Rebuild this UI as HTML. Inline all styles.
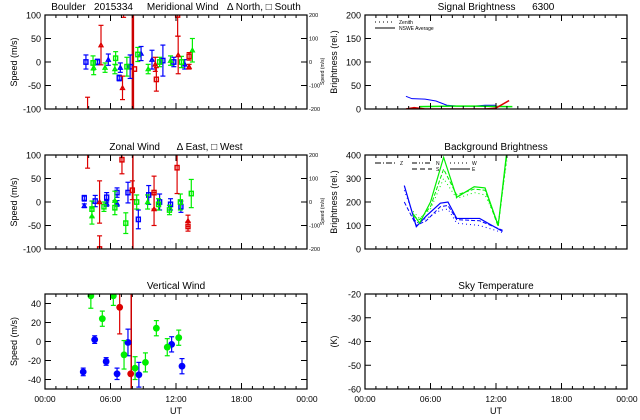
<!DOCTYPE html>
<html><head><meta charset="utf-8"><style>
html,body{margin:0;padding:0;background:#fff;}
svg{display:block;font-family:"Liberation Sans",sans-serif;}
text{white-space:pre;}
</style></head><body>
<svg id="c" width="640" height="420" viewBox="0 0 640 420" xmlns="http://www.w3.org/2000/svg"></svg>
<script>
// ---- data ----
const merBlue=[[3.75,0,15,'s'],[4.8,0,6,'s'],[5.8,5,12,'t'],[6.8,-34,6,'s'],[6.9,-12,10,'t'],[7.8,-10,25,'s'],[8.8,18,15,'t'],[9.8,5,20,'t'],[10.8,3,33,'s'],[11.8,0,10,'s'],[12.8,-5,10,'t']];
const merGreen=[[4.46,-12,15,'t'],[4.4,-2,15,'s'],[5.5,-12,10,'t'],[6.47,8,14,'s'],[6.4,-15,10,'t'],[7.5,-10,20,'s'],[8.5,16,15,'s'],[9.45,-15,10,'t'],[10.5,0,10,'s'],[11.5,3,10,'t'],[12.5,0,12,'s'],[13.5,25,25,'t']];
const merRed=[[5.13,36,42,'t'],[3.9,-110,35,'s'],[7.1,-55,25,'t'],[7.2,120,25,'s'],[8.2,-15,0,'s'],[10.1,-5,15,'t'],[10.2,-37,25,'s'],[12.2,15,40,'t'],[12.15,100,45,'s'],[13.2,12,8,'s'],[13.2,-10,5,'t']];
const zonBlue=[[3.6,8,6,'s'],[3.6,-8,4,'t'],[4.6,2,12,'s'],[5.65,10,10,'s'],[5.65,-3,6,'t'],[6.6,20,10,'s'],[6.6,-3,6,'t'],[7.6,20,22,'s'],[8.55,-37,20,'s'],[9.5,15,20,'s'],[10.5,0,17,'s'],[11.5,-5,12,'s'],[12.45,-10,12,'s']];
const zonGreen=[[4.3,-15,17,'s'],[4.3,-30,17,'t'],[5.4,-10,10,'s'],[6.4,3,20,'t'],[6.4,-12,15,'s'],[7.4,-45,22,'s'],[8.4,0,15,'s'],[9.4,0,15,'t'],[10.4,-5,12,'s'],[11.4,-17,10,'s'],[12.4,0,17,'s'],[13.4,18,30,'s']];
const zonRed=[[3.9,115,43,'s'],[5.0,0,45,'t'],[5.0,-100,28,'s'],[7.05,90,30,'s'],[8.0,25,20,'s'],[9.99,20,35,'s'],[9.99,-15,35,'t'],[12.1,73,55,'s'],[13.1,-52,10,'s'],[13.1,-40,12,'t']];
const verBlue=[[3.5,-32,4],[4.55,2,4],[5.6,-21,4],[6.6,-34,6],[7.6,-1,14],[8.6,-35,13],[11.6,-3,8],[12.55,-26,8]];
const verGreen=[[4.2,48,13],[5.25,24,8],[6.26,48,10],[7.24,-14,15],[8.25,-28,12],[9.2,-22,10],[10.2,14,8],[11.2,-6,9],[12.25,4,8]];
const verRed=[[6.84,36,28],[7.85,-34,0]];
const sigBlueT=[3.75,4.3,5.5,6.5,7.5,8.5,10,11,12];
const sigBlueV=[27,22,21,17,8,6,6,8,8];
const sigGreenT=[5,8,10,13.5];
const sigGreenV=[5,6,6,5];
const sigRedT=[3.75,4.5,5.5,11,12,13.2];
const sigRedV=[0,3,0,0,2,18];
const bgBlueT=[3.6,4.7,5.6,6.9,7.6,8.4,10.5,12.6];
const bgBlueA=[270,95,140,195,200,130,130,75];
const bgBlueB=[200,100,120,180,185,125,120,80];
const bgBlueC=[250,110,130,165,170,110,100,70];
const bgGreenT=[4.4,5.0,6.0,7.2,8.4,10.0,11.0,12.2,13.0];
const bgGreenA=[150,110,200,390,220,265,260,100,420];
const bgGreenB=[140,125,180,340,230,255,250,95,400];
const bgGreenC=[160,130,170,300,215,240,230,110,380];
const xTickLabels=['00:00','06:00','12:00','18:00','00:00'];
const merTicks=[-100,-50,0,50,100];
const rightTicks=['-200','-100','0','100','200'];
const verTicks=[-40,-20,0,20,40];
const sigTicks=[0,50,100,150,200];
const bgTicks=[0,100,200,300,400];
const skyTicks=[-60,-50,-40,-30,-20];
// ---- helpers ----
const NS='http://www.w3.org/2000/svg';
const svg=document.getElementById('c');
function mk(tag,at,parent){const e=document.createElementNS(NS,tag);for(const k in at)e.setAttribute(k,at[k]);(parent||svg).appendChild(e);return e;}
const COL={b:'#0000ff',g:'#00ee00',r:'#dd0000'};
function panel(name,x0,x1,y0,y1,ymin,ymax,yt,title,ylab,rightLabels,showX){
  const g=mk('g',{});
  
  
  const P={x0,x1,y0,y1,ymin,ymax,g,
    sx:h=>x0+(x1-x0)*h/24, sy:v=>y1-(y1-y0)*(v-ymin)/(ymax-ymin)};
  const cp='cp'+name;const c=mk('clipPath',{id:cp},g);mk('rect',{x:x0,y:y0,width:x1-x0,height:y1-y0},c);
  P.cg=mk('g',{'clip-path':'url(#'+cp+')'},g);
  mk('rect',{x:x0,y:y0,width:x1-x0,height:y1-y0,fill:'none',stroke:'#000','stroke-width':1.2},g);
  for(let h=1;h<24;h++){const X=P.sx(h),L=h%6==0?6:3;
    mk('line',{x1:X,x2:X,y1:y1,y2:y1-L,stroke:'#000'},g);mk('line',{x1:X,x2:X,y1:y0,y2:y0+L,stroke:'#000'},g);}
  yt.forEach(v=>{const Y=P.sy(v);
    mk('line',{x1:x0,x2:x0+6,y1:Y,y2:Y,stroke:'#000'},g);mk('line',{x1:x1,x2:x1-6,y1:Y,y2:Y,stroke:'#000'},g);
    const t=mk('text',{x:x0-4,y:Y+3.5,'text-anchor':'end','font-size':9},g);t.textContent=v;
    
    });
  if(rightLabels)rightLabels.forEach((s,i)=>{const Y=P.sy(yt[i]);const t=mk('text',{x:x1+2,y:Y+2,'font-size':5.5},g);t.textContent=s;
    
    });
  const tt=mk('text',{x:(x0+x1)/2,y:y0-5,'text-anchor':'middle','font-size':10},g);tt.textContent=title;
  
  
  const yl=mk('text',{x:0,y:0,'text-anchor':'middle','font-size':9,transform:`translate(${x0-28},${(y0+y1)/2}) rotate(-90)`},g);yl.textContent=ylab;
  
  
  if(showX){xTickLabels.forEach((s,i)=>{const t=mk('text',{x:P.sx(i*6),y:y1+13,'text-anchor':'middle','font-size':8.5},g);t.textContent=s;
      
      });
    const u=mk('text',{x:(x0+x1)/2,y:y1+25,'text-anchor':'middle','font-size':9},g);u.textContent='UT';
    
    }
  return P;
}
function err(P,h,v,e,col){const X=P.sx(h);if(e<=0)return;
  mk('line',{x1:X,x2:X,y1:P.sy(v-e),y2:P.sy(v+e),stroke:col,'stroke-width':1.2},P.cg);
  [v-e,v+e].forEach(w=>mk('line',{x1:X-2.5,x2:X+2.5,y1:P.sy(w),y2:P.sy(w),stroke:col,'stroke-width':1.2},P.cg));}
function pts(P,arr,col,name){arr.forEach(d=>{err(P,d[0],d[1],d[2],col);const X=P.sx(d[0]),Y=P.sy(d[1]);let m;
  if(d[3]=='t')m=mk('path',{d:`M${X-2},${Y+1.6} L${X+2},${Y+1.6} L${X},${Y-2}Z`,fill:'none',stroke:col,'stroke-width':1.3},P.cg);
  else m=mk('rect',{x:X-2,y:Y-2.2,width:4,height:4.4,fill:'none',stroke:col,'stroke-width':1.4},P.cg);
  
  });}
function dots(P,arr,col,name){arr.forEach(d=>{err(P,d[0],d[1],d[2],col);const c=mk('circle',{cx:P.sx(d[0]),cy:P.sy(d[1]),r:3.4,fill:col},P.cg);
  
  });}
function line(P,T,V,col,dash,name,w){const p=mk('polyline',{points:T.map((t,i)=>P.sx(t)+','+P.sy(V[i])).join(' '),fill:'none',stroke:col,'stroke-width':w||1,'stroke-dasharray':dash||'none'},P.cg);
  
  }
function vline(P,h,w){const l=mk('line',{x1:P.sx(h),x2:P.sx(h),y1:P.y0,y2:P.y1,stroke:'#cc0000','stroke-width':w},P.cg);
  
  }
function txt(x,y,s,fs,name,extra){const t=mk('text',Object.assign({x,y,'font-size':fs},extra||{}));t.textContent=s;
  
  return t;}
// ---- panels ----
const L0=45,L1=307,R0=365,R1=627;
const pm=panel('meridional-wind-panel',L0,L1,15,109,-100,100,merTicks,'Boulder   2015334     Meridional Wind   \u0394 North, \u25A1 South','Speed (m/s)',rightTicks,false);
vline(pm,8.05,2.5);pts(pm,merBlue,COL.b,'meridional-blue-point');pts(pm,merGreen,COL.g,'meridional-green-point');pts(pm,merRed,COL.r,'meridional-red-point');
const pz=panel('zonal-wind-panel',L0,L1,155,249,-100,100,merTicks,'Zonal Wind      \u0394 East, \u25A1 West','Speed (m/s)',rightTicks,false);
vline(pz,8.05,1.5);pts(pz,zonBlue,COL.b,'zonal-blue-point');pts(pz,zonGreen,COL.g,'zonal-green-point');pts(pz,zonRed,COL.r,'zonal-red-point');
const pv=panel('vertical-wind-panel',L0,L1,294,389,-50,50,verTicks,'Vertical Wind','Speed (m/s)',null,true);
vline(pv,7.9,1.5);dots(pv,verBlue,COL.b,'vertical-blue-point');dots(pv,verGreen,COL.g,'vertical-green-point');dots(pv,verRed,COL.r,'vertical-red-point');
const ps=panel('signal-brightness-panel',R0,R1,15,109,0,200,sigTicks,'Signal Brightness      6300','Brightness (rel.)',null,false);
line(ps,sigBlueT,sigBlueV,COL.b,null,'signal-blue-line');line(ps,sigGreenT,sigGreenV,COL.g,null,'signal-green-line',1.5);line(ps,sigRedT,sigRedV,COL.r,null,'signal-red-line',1.5);
mk('line',{x1:375,x2:395,y1:22,y2:22,stroke:'#000','stroke-dasharray':'1,3'});mk('line',{x1:375,x2:395,y1:28,y2:28,stroke:'#000'});
txt(399,24,'Zenith',5,'legend-zenith');txt(399,30,'NSWE Average',5,'legend-nswe-average');
const pb=panel('background-brightness-panel',R0,R1,155,249,0,400,bgTicks,'Background Brightness','Brightness (rel.)',null,false);
line(pb,bgBlueT,bgBlueA,COL.b,null,'background-blue-line',1.2);line(pb,bgBlueT,bgBlueB,COL.b,'4,2','background-blue-line');line(pb,bgBlueT,bgBlueC,COL.b,'1,3','background-blue-line');
line(pb,bgGreenT,bgGreenA,COL.g,null,'background-green-line',1.2);line(pb,bgGreenT,bgGreenB,COL.g,'4,2','background-green-line');line(pb,bgGreenT,bgGreenC,COL.g,'1,3','background-green-line');
mk('line',{x1:375,x2:395,y1:163,y2:163,stroke:'#000','stroke-dasharray':'6,2,1,2'});txt(400,165,'Z',5,'legend-z');
mk('line',{x1:412,x2:432,y1:163,y2:163,stroke:'#000','stroke-dasharray':'5,2,1,2,1,2'});txt(436,165,'N',5,'legend-n');
mk('line',{x1:412,x2:432,y1:169,y2:169,stroke:'#000','stroke-dasharray':'5,3'});txt(436,171,'S',5,'legend-s');
mk('line',{x1:450,x2:470,y1:163,y2:163,stroke:'#000','stroke-dasharray':'1,3'});txt(472,165,'W',5,'legend-w');
mk('line',{x1:450,x2:470,y1:169,y2:169,stroke:'#000'});txt(472,171,'E',5,'legend-e');
const pt=panel('sky-temperature-panel',R0,R1,294,389,-60,-20,skyTicks,'Sky Temperature','(K)',null,true);
txt(0,0,'Speed (m/s)',5,'overlap-axis-label',{transform:'translate(324,85) rotate(-90)'});
txt(0,0,'Speed (m/s)',5,'overlap-axis-label',{transform:'translate(324,225) rotate(-90)'});
</script>
</body></html>
